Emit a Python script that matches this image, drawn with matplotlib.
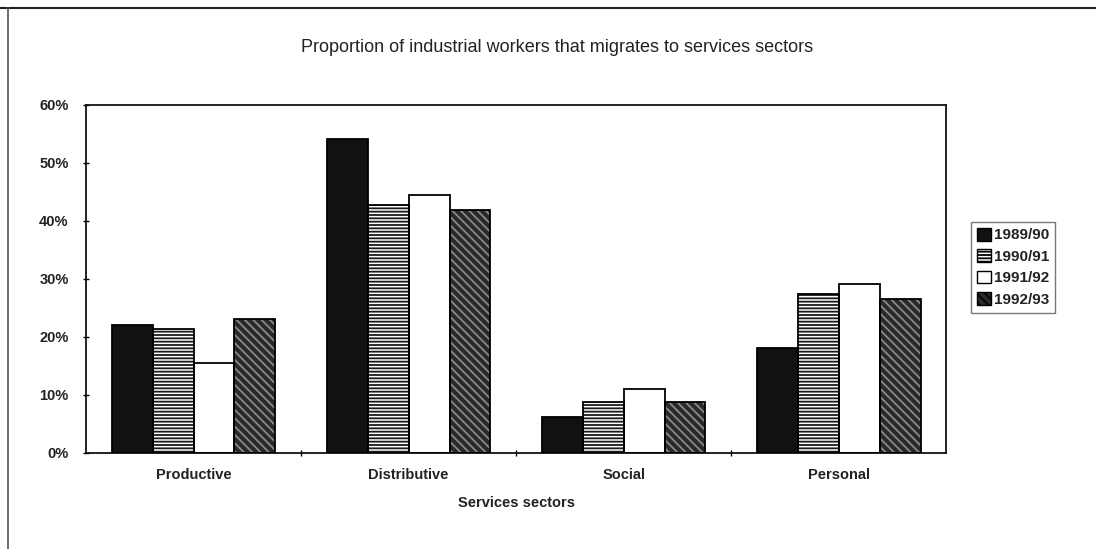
import numpy as np
import matplotlib
matplotlib.use("Agg")
import matplotlib.pyplot as plt
from matplotlib.lines import Line2D
from matplotlib.ticker import PercentFormatter, FixedLocator

plt.rcParams['font.family'] = ['Liberation Sans', 'DejaVu Sans']
plt.rcParams['hatch.linewidth'] = 1.3

#dados
setores = ['Productive', 'Distributive', 'Social', 'Personal']
anos = ['1989/90', '1990/91', '1991/92', '1992/93']
v_1989 = [22.1, 54.1, 6.2, 18.1]
v_1990 = [21.4, 42.8, 8.8, 27.4]
v_1991 = [15.5, 44.5, 11.0, 29.1]
v_1992 = [23.1, 41.9, 8.8, 26.5]
valores = [v_1989, v_1990, v_1991, v_1992]

#estilo de cada serie: cor de fundo, hachura, cor da hachura
estilos = [
    ('#111111', None, '#111111'),
    ('white', '-----', '#1a1a1a'),
    ('white', None, '#111111'),
    ('#2a2a2a', '\\\\\\\\', '#8a8a8a'),
]

fig = plt.figure(figsize=(10.96, 5.49), dpi=100)
ax = fig.add_axes([0.0785, 0.175, 0.785, 0.634])

x = np.arange(len(setores))
larg = 0.19
handles = []
for k, serie in enumerate(valores):
    pos = x + (k - 1.5) * larg
    fundo, hach, cor_h = estilos[k]
    ax.bar(pos, serie, larg, color=fundo, hatch=hach, edgecolor=cor_h, linewidth=0, zorder=2)
    ax.bar(pos, serie, larg, fill=False, edgecolor='black', linewidth=1.3, zorder=3)
    h = plt.Rectangle((0, 0), 1, 1, facecolor=fundo, hatch=hach, edgecolor='black', linewidth=1.0)
    handles.append(h)

ax.set_xlim(-0.5, len(setores) - 0.5)
ax.set_ylim(0, 60)
ax.set_yticks(np.arange(0, 61, 10))
ax.yaxis.set_major_formatter(PercentFormatter(decimals=0))
ax.set_xticks(x)
ax.set_xticklabels(setores, fontsize=10.5, fontweight='bold', color='#222222')
ax.xaxis.set_minor_locator(FixedLocator(x[:-1] + 0.5))
ax.tick_params(axis='x', which='major', length=0, pad=11)
ax.tick_params(axis='x', which='minor', length=4, direction='inout', width=1)
ax.tick_params(axis='y', length=5, direction='inout', width=1, pad=10, labelsize=10.5, labelcolor='#222222')
for lab in ax.get_yticklabels():
    lab.set_fontweight('bold')
for s in ax.spines.values():
    s.set_linewidth(1.3)
    s.set_color('#111111')

ax.set_xlabel('Services sectors', fontsize=10.5, fontweight='bold', color='#222222', labelpad=10)

fig.text(0.508, 0.914, 'Proportion of industrial workers that migrates to services sectors',
         ha='center', va='center', fontsize=13, color='#222222')

leg = fig.legend(handles, anos, loc='center left', bbox_to_anchor=(0.879, 0.513),
                 fontsize=11, frameon=True, fancybox=False, edgecolor='#555555',
                 handlelength=0.9, handleheight=0.9, handletextpad=0.2,
                 borderpad=0.4, labelspacing=0.45)
for t in leg.get_texts():
    t.set_fontweight('bold')
    t.set_color('#222222')

#moldura do grafico original (linha superior e esquerda)
fig.add_artist(Line2D([0.0, 1.0], [0.986, 0.986], color='#222222', linewidth=1.5))
fig.add_artist(Line2D([0.007, 0.007], [0.0, 0.986], color='#555555', linewidth=1.2))

plt.savefig('out.png', dpi=100)
